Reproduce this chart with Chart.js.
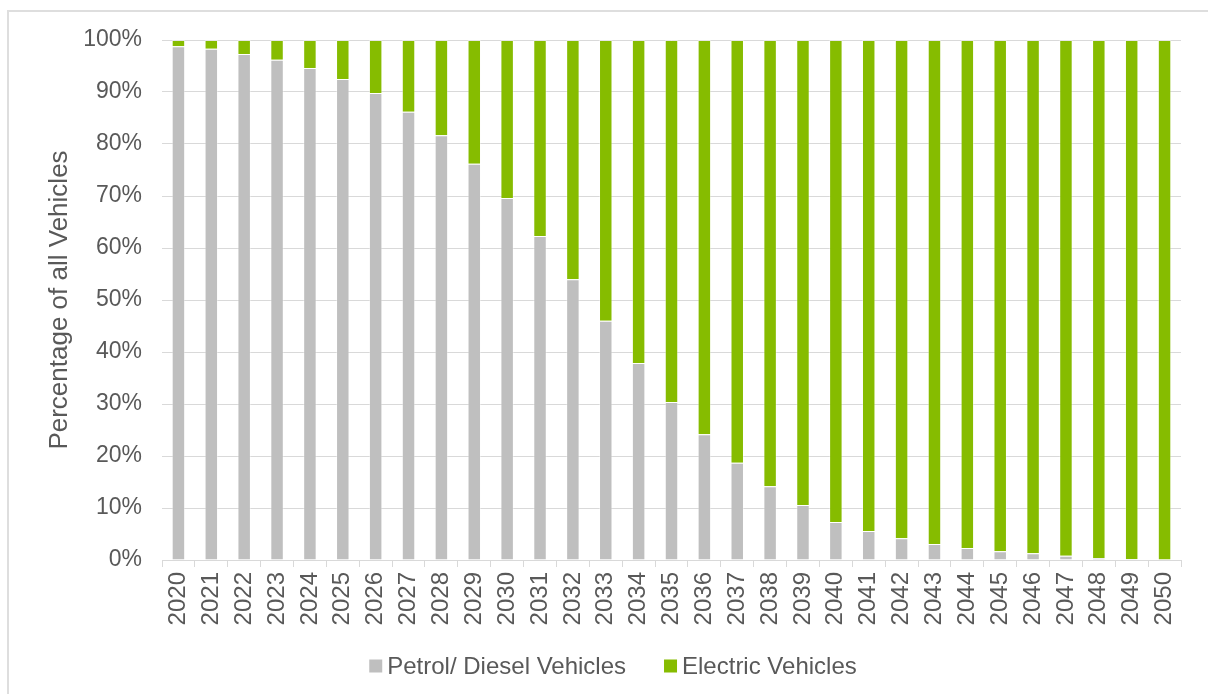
<!DOCTYPE html>
<html>
<head>
<meta charset="utf-8">
<script src="https://cdn.jsdelivr.net/npm/chart.js@4"></script>
<style>
  html, body { margin: 0; padding: 0; background: #ffffff; }
  #frame { position: absolute; left: 7px; top: 10px; width: 1220px; height: 700px; border-left: 2px solid #DEDEDE; border-top: 2px solid #DEDEDE; }
  #wrap { position: absolute; left: 0; top: 0; width: 1208px; height: 694px; }
</style>
</head>
<body>
<div id="frame"></div>
<div id="wrap"><canvas id="c" width="1208" height="694"></canvas></div>
<script>
const years = ['2020','2021','2022','2023','2024','2025','2026','2027','2028','2029','2030','2031','2032','2033','2034','2035','2036','2037','2038','2039','2040','2041','2042','2043','2044','2045','2046','2047','2048','2049','2050'];
const petrolDiesel = [98.8, 98.3, 97.3, 96.2, 94.6, 92.5, 89.8, 86.2, 81.7, 76.2, 69.6, 62.3, 54.0, 46.0, 37.9, 30.4, 24.2, 18.7, 14.2, 10.6, 7.3, 5.6, 4.2, 3.1, 2.3, 1.7, 1.3, 0.8, 0.4, 0.2, 0.1];
const electric = [1.2, 1.7, 2.7, 3.8, 5.4, 7.5, 10.2, 13.8, 18.3, 23.8, 30.4, 37.7, 46.0, 54.0, 62.1, 69.6, 75.8, 81.3, 85.8, 89.4, 92.7, 94.4, 95.8, 96.9, 97.7, 98.3, 98.7, 99.2, 99.6, 99.8, 99.9];
const seriesLabels = ['Petrol/ Diesel Vehicles', 'Electric Vehicles'];
const yTicks = [0, 10, 20, 30, 40, 50, 60, 70, 80, 90, 100];
const yTitle = 'Percentage of all Vehicles';

const FONT = "'Liberation Sans', Arial, sans-serif";
const TEXT = '#595959';
const GRID = '#D9D9D9';

const legendPlugin = {
  id: 'customLegend',
  afterDraw(chart) {
    const ctx = chart.ctx;
    ctx.save();
    ctx.font = '24px ' + FONT;
    ctx.textBaseline = 'middle';
    const box = 13, gap = 5, spacing = 38;
    const items = chart.data.datasets.map(d => ({ label: d.label, color: d.backgroundColor, w: ctx.measureText(d.label).width }));
    let total = 0;
    items.forEach((it, i) => { total += box + gap + it.w + (i < items.length - 1 ? spacing : 0); });
    let x = 613 - total / 2;
    const yc = 666;
    items.forEach(it => {
      ctx.fillStyle = it.color;
      ctx.fillRect(x, yc - box / 2, box, box);
      x += box + gap;
      ctx.fillStyle = TEXT;
      ctx.textAlign = 'left';
      ctx.fillText(it.label, x, yc + 1);
      x += it.w + spacing;
    });
    ctx.restore();
  }
};

new Chart(document.getElementById('c'), {
  type: 'bar',
  data: {
    labels: years,
    datasets: [
      { label: seriesLabels[0], data: petrolDiesel, backgroundColor: '#BFBFBF', borderColor: 'rgba(255,255,255,0.35)', borderWidth: 1, borderSkipped: 'bottom' },
      { label: seriesLabels[1], data: electric, backgroundColor: '#86BC00', borderColor: 'rgba(255,255,255,0.35)', borderWidth: 1, borderSkipped: 'bottom' }
    ]
  },
  options: {
    responsive: false,
    animation: false,
    devicePixelRatio: 1,
    layout: { padding: { left: 40, top: 40, right: 27, bottom: 0 } },
    datasets: { bar: { categoryPercentage: 1.0, barPercentage: 0.41 } },
    plugins: { legend: { display: false }, tooltip: { enabled: false } },
    scales: {
      x: {
        stacked: true,
        grid: { offset: true, drawOnChartArea: false, tickLength: 7, color: GRID, lineWidth: 1 },
        border: { display: true, color: GRID, width: 1 },
        ticks: { minRotation: 90, maxRotation: 90, autoSkip: false, padding: 5, color: TEXT, font: { family: FONT, size: 24 } },
        afterFit(s) { s.height = 134; }
      },
      y: {
        stacked: true,
        min: 0, max: 100,
        afterBuildTicks(s) { s.ticks = yTicks.map(v => ({ value: v })); },
        grid: { color: GRID, lineWidth: 1, drawTicks: false },
        border: { display: false },
        ticks: { padding: 20, color: TEXT, font: { family: FONT, size: 23 }, callback: v => v + '%' },
        title: { display: true, text: yTitle, color: TEXT, font: { family: FONT, size: 26 }, padding: { top: 4, bottom: 4 } },
        afterFit(s) { s.width = 122; }
      }
    }
  },
  plugins: [legendPlugin]
});
</script>
</body>
</html>
